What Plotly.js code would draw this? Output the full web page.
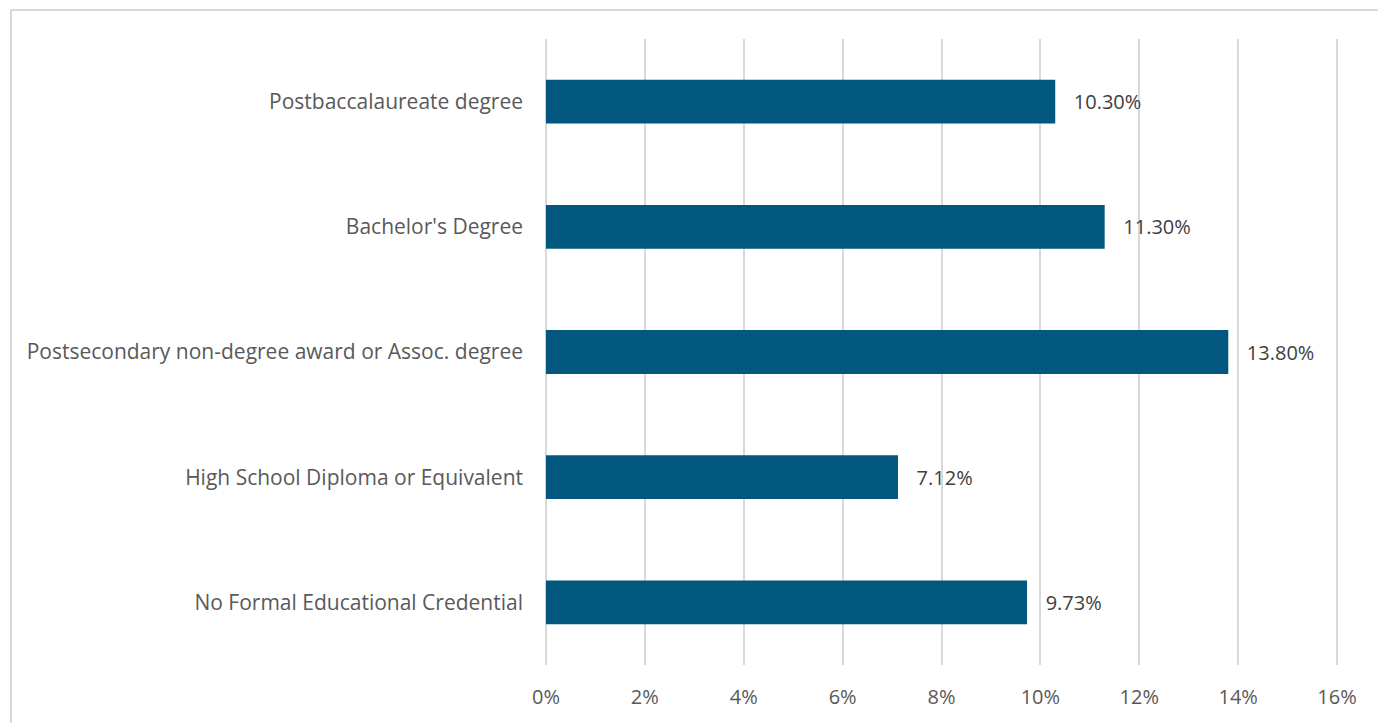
<!DOCTYPE html>
<html>
<head>
<meta charset="utf-8">
<script src="https://cdn.plot.ly/plotly-3.0.1.min.js"></script>
<style>
html,body{margin:0;padding:0;background:#fff;}
#frame{position:absolute;left:10px;top:9px;width:1400px;height:800px;border-left:2px solid #d9d9d9;border-top:2px solid #d9d9d9;box-sizing:border-box;pointer-events:none;z-index:5;}
#chart{position:absolute;left:0;top:0;width:1378px;height:723px;}
</style>
</head>
<body>
<div id="chart"></div>
<div id="frame"></div>
<script>
const categories = [
  "No Formal Educational Credential",
  "High School Diploma or Equivalent",
  "Postsecondary non-degree award or Assoc. degree",
  "Bachelor's Degree",
  "Postbaccalaureate degree"
];
const values = [9.73, 7.12, 13.80, 11.30, 10.30];
const tickVals = [0, 2, 4, 6, 8, 10, 12, 14, 16];
const tickText = ["0%", "2%", "4%", "6%", "8%", "10%", "12%", "14%", "16%"];

const font = "'Open Sans', 'Liberation Sans', sans-serif";

const trace = {
  type: 'bar',
  orientation: 'h',
  y: categories,
  x: values,
  marker: {color: '#01577E'},
  text: values.map(v => '\u00a0\u00a0\u00a0' + v.toFixed(2) + '%'),
  texttemplate: '%{text}',
  textposition: 'outside',
  cliponaxis: false,
  textfont: {family: font, size: 20, color: '#404040'},
  hoverinfo: 'skip'
};

const layout = {
  width: 1378,
  height: 723,
  margin: {l: 541, r: 36, t: 39, b: 58},
  paper_bgcolor: '#ffffff',
  plot_bgcolor: '#ffffff',
  bargap: 0.65,
  showlegend: false,
  font: {family: font, size: 20, color: '#595959'},
  xaxis: {
    range: [-0.1, 16.1],
    tickvals: tickVals,
    ticktext: tickText,
    showgrid: true,
    gridcolor: '#d9d9d9',
    gridwidth: 2,
    zeroline: false,
    showline: false,
    ticks: '',
    ticklabelstandoff: 18,
    tickfont: {family: font, size: 20, color: '#595959'},
    fixedrange: true
  },
  yaxis: {
    showgrid: false,
    zeroline: false,
    showline: false,
    ticks: '',
    ticklabelstandoff: 17,
    tickfont: {family: font, size: 21, color: '#595959'},
    fixedrange: true
  }
};

Plotly.newPlot('chart', [trace], layout, {staticPlot: true, displayModeBar: false});
</script>
</body>
</html>
